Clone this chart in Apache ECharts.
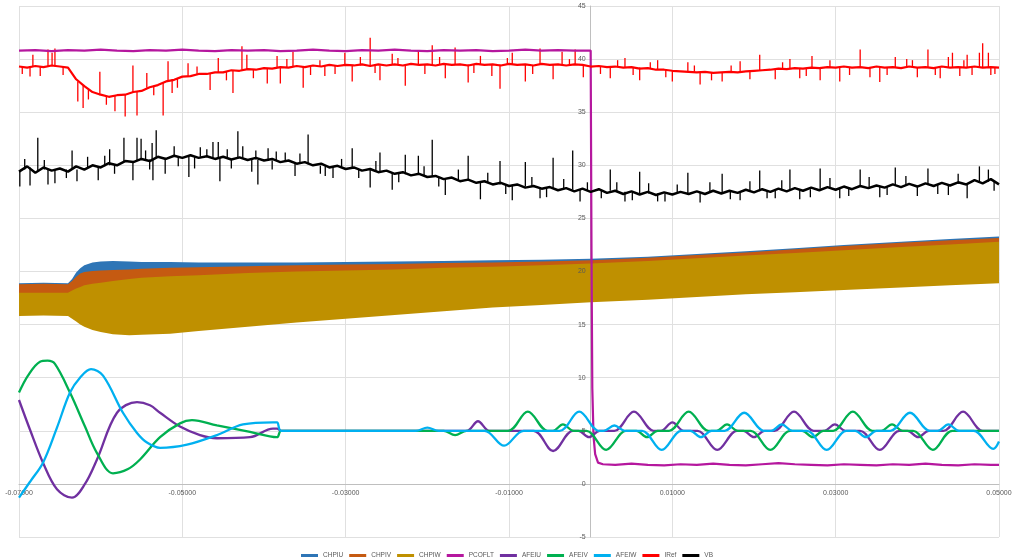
<!DOCTYPE html>
<html><head><meta charset="utf-8">
<script src="https://cdn.jsdelivr.net/npm/echarts@6/dist/echarts.min.js"></script>
<style>html,body{margin:0;padding:0;background:#fff}#c{width:1014px;height:560px}</style>
</head><body><div id="c"></div>
<script>
// ---- axis ticks (time in ms; labels shown in seconds) ----
var xTicks = [-70, -50, -30, -10, 10, 30, 50];
var seriesNames = ['CHPIU','CHPIV','CHPIW','PCOFLT','AFEIU','AFEIV','AFEIW','IRef','VB'];

// ---- CHP band envelopes (time ms, low / high) ----
var chpT = [-70,-67,-64,-63.5,-63,-62.5,-62,-61,-60,-58.5,-56.5,-55,-51.5,-48,-42,-36,-30,-24,-18,-12,-6,0,7,13,19,25,31,38,44,50];
var chpiuHi = [18.9,18.95,18.9,19.3,19.9,20.3,20.6,20.85,20.95,21.0,20.95,20.9,20.9,20.85,20.85,20.85,20.9,20.95,21.0,21.05,21.1,21.2,21.4,21.65,21.9,22.2,22.5,22.8,23.05,23.3];
var chpiuLo = [16.2,16.25,16.2,15.95,15.7,15.4,15.2,14.9,14.7,14.5,14.4,14.45,14.55,14.8,15.2,15.6,15.95,16.3,16.65,17.0,17.25,17.5,17.75,18.0,18.25,18.45,18.65,18.9,19.1,19.3];
var chpivHi = [18.8,18.85,18.8,19.1,19.5,19.8,19.95,20.05,20.1,20.15,20.2,20.25,20.35,20.4,20.5,20.6,20.65,20.7,20.8,20.85,20.95,21.05,21.3,21.55,21.8,22.1,22.4,22.7,22.95,23.15];
var chpivLo = [16.0,16.05,16.0,15.75,15.5,15.2,15.0,14.7,14.5,14.3,14.2,14.25,14.35,14.6,15.0,15.4,15.75,16.1,16.45,16.8,17.05,17.3,17.55,17.8,18.05,18.25,18.45,18.7,18.9,19.1];
var chpiwHi = [18.0,18.0,18.0,18.2,18.4,18.55,18.7,18.85,18.95,19.1,19.3,19.4,19.55,19.65,19.85,20.0,20.1,20.2,20.35,20.45,20.6,20.75,21.0,21.25,21.5,21.75,22.0,22.3,22.55,22.8];
var chpiwLo = [15.8,15.85,15.8,15.55,15.3,15.0,14.8,14.5,14.3,14.1,14.0,14.05,14.15,14.4,14.8,15.2,15.55,15.9,16.25,16.6,16.85,17.1,17.35,17.6,17.85,18.05,18.25,18.5,18.7,18.9];

// ---- PCOFLT [ms, value] ----
var pcofltData = [[-70,40.8],[-68,40.85],[-66,40.75],[-64,40.85],[-62,40.8],[-60,40.9],[-58,40.8],[-56,40.75],[-54,40.85],[-52,40.8],[-50,40.9],[-48,40.8],[-46,40.75],[-44,40.85],[-42,40.8],[-40,40.85],[-38,40.75],[-36,40.8],[-34,40.9],[-32,40.8],[-30,40.75],[-28,40.85],[-26,40.8],[-24,40.9],[-22,40.8],[-20,40.75],[-18,40.85],[-16,40.8],[-14,40.85],[-12,40.75],[-10,40.8],[-8,40.9],[-6,40.8],[-4,40.85],[-2,40.8],[0,40.8],[0.1,22],[0.2,9],[0.35,4.5],[0.55,2.8],[0.9,2.0],[1.5,1.85],[3,1.8],[5,1.9],[7,1.8],[9,1.75],[11,1.85],[13,1.8],[15,1.9],[17,1.8],[19,1.75],[21,1.85],[23,1.95],[25,1.85],[27,1.8],[29,1.75],[31,1.85],[33,1.8],[35,1.75],[37,1.85],[39,1.8],[41,1.9],[43,1.8],[45,1.75],[47,1.85],[49,1.8],[50,1.8]];

// ---- AFE currents [ms, value] ----
var afeiuData = [[-70,7.9],[-68.65,5.1],[-67.06,2.0],[-65.35,-0.5],[-63.51,-1.3],[-61.92,0.0],[-60.45,2.3],[-58.0,6.7],[-55.55,7.7],[-53.96,7.4],[-52.73,6.7],[-50.29,5.4],[-47.84,4.6],[-45.76,4.3],[-41.71,4.4],[-38.9,5.2],[-38.4,5.2],[-37.9,5.0],
[-15.2,5.0],[-13.8,5.9],[-12.4,5.0],[-7.0,5.0],[-4.6,3.1],[-2.2,5.0],[-1.5,5.0],[-0.2,4.4],[1.1,5.0],[2.9,5.0],[5.3,6.8],[7.7,5.0],[8.6,5.0],[10.0,5.8],[11.4,5.0],[13.1,5.0],[15.5,3.2],[17.9,5.0],[18.7,5.0],[20.0,4.4],[21.3,5.0],[22.5,5.0],[24.9,6.8],[27.3,5.0],[28.6,5.0],[29.9,5.6],[31.2,5.0],[33.0,5.0],[35.4,3.2],[37.8,5.0],[38.8,5.0],[40.1,4.4],[41.4,5.0],[43.2,5.0],[45.6,6.8],[48.0,5.0],[50,5.0]];
var afeivData = [[-70,8.6],[-68.9,10.2],[-67.43,11.5],[-66.5,11.6],[-65.6,11.3],[-63.76,8.6],[-61.92,5.4],[-60.45,2.9],[-58.49,1.0],[-56.65,1.4],[-55.18,2.3],[-52.73,4.4],[-50.29,5.7],[-48.82,6.0],[-45.76,5.5],[-41.71,4.9],[-38.41,4.4],[-37.9,5.0],
[-18.0,5.0],[-16.6,4.6],[-15.2,5.0],[-10.1,5.0],[-7.7,6.8],[-5.3,5.0],[-4.6,5.0],[-3.4,5.6],[-2.1,5.0],[-0.5,5.0],[1.9,3.2],[4.3,5.0],[5.6,5.0],[6.9,4.4],[8.2,5.0],[9.6,5.0],[12.0,6.8],[14.4,5.0],[15.4,5.0],[16.7,5.6],[18.0,5.0],[19.6,5.0],[22.0,3.2],[24.4,5.0],[25.9,5.0],[27.2,4.4],[28.5,5.0],[29.7,5.0],[32.1,6.8],[34.5,5.0],[35.6,5.0],[36.9,5.6],[38.2,5.0],[39.5,5.0],[41.9,3.2],[44.3,5.0],[50,5.0]];
var afeiwData = [[-70,-1.3],[-68.65,0.2],[-67.06,2.0],[-65.35,5.3],[-63.76,8.6],[-62.53,10.0],[-61.18,10.8],[-59.71,10.2],[-57.27,6.7],[-55.55,4.8],[-54.33,3.9],[-52.73,3.4],[-49.43,3.7],[-45.76,4.6],[-42.57,5.6],[-38.9,5.8],[-38.4,5.8],[-37.9,5.0],
[-21.4,5.0],[-20.0,5.3],[-18.6,5.0],[-13.0,5.0],[-10.6,3.6],[-8.2,5.0],[-3.8,5.0],[-1.4,6.8],[1.0,5.0],[1.6,5.0],[2.9,5.5],[4.2,5.0],[6.3,5.0],[8.7,3.2],[11.1,5.0],[12.2,5.0],[13.5,4.4],[14.8,5.0],[16.4,5.0],[18.8,6.7],[21.2,5.0],[22.1,5.0],[23.4,5.6],[24.7,5.0],[26.5,5.0],[28.9,3.2],[31.3,5.0],[32.4,5.0],[33.7,4.4],[35.0,5.0],[36.7,5.0],[39.1,6.7],[41.5,5.0],[42.5,5.0],[43.8,5.6],[45.1,5.0],[46.9,5.0],[49.3,3.3],[50,4.0]];

// ---- 1 ms sample times for IRef / VB ----
var t1ms = [-70,-69,-68,-67,-66,-65,-64,-63,-62,-61,-60,-59,-58,-57,-56,-55,-54,-53,-52,-51,-50,-49,-48,-47,-46,-45,-44,-43,-42,-41,-40,-39,-38,-37,-36,-35,-34,-33,-32,-31,-30,-29,-28,-27,-26,-25,-24,-23,-22,-21,-20,-19,-18,-17,-16,-15,-14,-13,-12,-11,-10,-9,-8,-7,-6,-5,-4,-3,-2,-1,0,1,2,3,4,5,6,7,8,9,10,11,12,13,14,15,16,17,18,19,20,21,22,23,24,25,26,27,28,29,30,31,32,33,34,35,36,37,38,39,40,41,42,43,44,45,46,47,48,49,50];
var irefBase = [39.3,39.2,39.35,39.25,39.4,39.3,39.2,38.1,37.45,36.9,
36.65,36.45,36.6,36.65,36.9,37.0,37.35,37.55,37.9,38.05,
38.35,38.4,38.6,38.6,38.75,38.75,38.95,38.9,39.05,39.0,
39.15,39.1,39.25,39.2,39.35,39.25,39.4,39.3,39.45,39.35,
39.45,39.4,39.5,39.35,39.5,39.4,39.5,39.4,39.55,39.45,
39.5,39.4,39.55,39.45,39.5,39.4,39.55,39.45,39.5,39.4,
39.55,39.45,39.5,39.4,39.55,39.45,39.5,39.4,39.5,39.45,
39.3,39.35,39.25,39.3,39.2,39.25,39.1,39.15,39.0,39.0,
38.9,38.85,38.8,38.75,38.8,38.7,38.75,38.8,38.75,38.85,
38.9,38.95,39.0,39.1,39.05,39.15,39.1,39.2,39.15,39.25,
39.2,39.3,39.2,39.25,39.15,39.3,39.2,39.25,39.15,39.3,
39.2,39.25,39.15,39.3,39.2,39.25,39.2,39.3,39.2,39.25,39.2];
var vbBase = [29.4,29.9,29.3,29.8,29.5,29.7,29.4,29.9,29.6,30.0,
29.8,30.2,30.0,30.4,30.3,30.6,30.4,30.8,30.6,30.9,
30.7,30.95,30.7,30.85,30.6,30.8,30.55,30.75,30.5,30.7,
30.45,30.6,30.3,30.45,30.15,30.3,30.0,30.15,29.8,29.95,
29.65,29.8,29.5,29.65,29.35,29.5,29.2,29.35,29.05,29.2,
28.9,29.0,28.7,28.85,28.5,28.65,28.35,28.5,28.2,28.35,
28.05,28.2,27.9,28.05,27.8,27.95,27.65,27.85,27.55,27.8,
27.5,27.75,27.4,27.6,27.3,27.55,27.25,27.5,27.2,27.45,
27.25,27.5,27.3,27.55,27.3,27.6,27.35,27.6,27.4,27.7,
27.45,27.75,27.5,27.8,27.55,27.85,27.6,27.9,27.65,27.95,
27.7,28.0,27.75,28.05,27.85,28.1,27.9,28.2,27.95,28.25,
28.0,28.3,28.05,28.35,28.1,28.4,28.2,28.6,28.3,28.7,28.2];

// ---- spikes [ms, from, to] ----
var irefSpikes = [[-69.6,39.25,38.6],[-68.65,39.25,38.35],[-68.3,39.3,40.4],[-67.4,39.3,38.4],[-66.45,39.3,40.9],[-65.95,39.35,40.6],[-65.6,39.3,41.0],[-64.6,39.3,38.5],[-62.8,37.9,36.0],[-62.15,37.5,35.4],[-61.5,37.1,36.2],[-60.1,36.6,38.8],[-59.3,36.5,35.7],[-58.25,36.55,35.1],[-57.0,36.65,34.6],[-56.05,36.85,39.4],[-55.55,36.95,34.7],[-54.35,37.3,38.7],[-53.5,37.5,36.6],[-52.35,37.85,34.7],[-51.75,38.0,39.8],[-51.25,38.1,36.8],[-50.6,38.2,37.3],[-49.3,38.4,39.6],[-48.2,38.55,39.3],[-46.6,38.7,37.1],[-45.6,38.75,40.1],[-44.6,38.8,38.0],[-43.8,38.9,36.8],[-42.7,39.0,41.2],[-42.1,39.05,40.4],[-41.3,39.05,38.2],[-39.6,39.1,37.7],[-38.4,39.2,40.3],[-38.0,39.2,37.7],[-37.2,39.25,40.0],[-36.45,39.3,40.7],[-35.2,39.3,37.3],[-34.3,39.35,38.5],[-33.15,39.35,39.9],[-32.55,39.4,38.4],[-31.3,39.4,38.6],
[-30.1,39.4,40.6],[-29.2,39.4,37.9],[-28.2,39.4,40.2],[-27.0,39.4,42.0],[-26.4,39.45,38.7],[-25.8,39.4,38.0],[-24.3,39.45,40.5],[-23.6,39.45,40.1],[-22.7,39.45,37.5],[-21.1,39.45,40.8],[-20.3,39.45,38.6],[-19.4,39.5,41.3],[-18.5,39.5,40.2],[-17.8,39.5,38.2],[-16.6,39.5,41.1],[-15.0,39.5,37.8],[-14.3,39.5,38.7],[-13.5,39.5,40.3],[-12.1,39.5,38.4],[-11.1,39.5,37.2],[-10.2,39.5,40.1],[-9.6,39.5,40.6],[-8.0,39.5,37.9],[-7.1,39.45,38.6],[-6.2,39.5,41.0],[-4.6,39.5,38.1],[-3.5,39.5,40.7],[-2.6,39.45,40.0],[-1.9,39.5,40.9],[-0.9,39.5,38.3],
[1.2,39.3,38.6],[2.4,39.3,38.2],[3.3,39.3,39.9],[4.2,39.25,40.1],[5.2,39.2,38.5],[6.0,39.2,38.0],[7.3,39.1,39.7],[8.2,39.0,39.9],[9.2,39.0,38.3],[10.0,38.9,37.9],[11.9,38.8,39.7],[12.7,38.8,39.4],[13.4,38.8,37.6],[14.8,38.75,38.0],[16.1,38.75,37.9],[17.2,38.8,39.4],[18.3,38.8,39.8],[19.5,38.85,38.1],[20.7,38.9,40.4],[22.6,39.0,38.1],[23.5,39.05,39.7],[24.4,39.1,40.0],[25.6,39.1,38.2],[26.4,39.15,38.4],[27.1,39.15,40.3],[28.1,39.2,38.0],[29.3,39.2,39.9],[30.5,39.2,37.9],[31.7,39.25,38.5],[33.0,39.2,40.9],[34.2,39.2,38.3],[35.4,39.2,37.85],[36.3,39.2,38.5],[37.3,39.2,40.2],[38.7,39.2,40.0],[39.4,39.2,39.9],[40.0,39.2,38.3],[41.3,39.2,40.9],[42.2,39.2,38.5],[42.8,39.2,38.2],[43.8,39.2,40.2],[44.3,39.2,40.6],[45.2,39.25,38.4],[45.7,39.25,39.9],[46.1,39.25,40.4],[46.7,39.25,38.5],[47.6,39.25,40.6],[48.0,39.25,41.5],[48.7,39.25,40.6],[49.0,39.25,38.5],[49.5,39.2,38.6]];
var vbSpikes = [[-69.9,29.5,28.0],[-69.3,29.6,30.6],[-68.65,29.8,28.1],[-67.7,29.5,32.6],[-66.9,29.6,30.5],[-66.45,29.6,28.2],[-65.6,29.6,28.3],[-64.2,29.6,28.8],[-63.5,29.7,31.4],[-62.9,29.6,28.5],[-61.6,29.8,30.8],[-60.3,29.9,28.6],[-59.5,29.9,30.9],[-58.9,30.0,31.5],[-58.3,30.1,29.2],[-57.15,30.3,32.6],[-56.05,30.4,28.6],[-55.55,30.5,32.6],[-55.05,30.5,32.5],[-54.5,30.5,31.4],[-54.0,30.55,29.6],[-53.7,30.6,32.1],[-53.6,30.6,28.6],[-53.2,30.7,33.3],[-52.1,30.7,29.2],[-51.0,30.8,31.8],[-50.5,30.8,29.9],[-49.2,30.8,28.9],[-48.5,30.8,29.7],[-47.8,30.8,31.7],[-47.0,30.8,31.5],[-46.25,30.7,32.2],[-45.6,30.7,32.2],[-45.4,30.7,28.5],[-44.5,30.65,31.5],[-44.0,30.6,29.7],[-43.2,30.6,33.2],[-42.6,30.6,31.8],[-41.5,30.55,29.4],[-41.0,30.55,31.4],[-40.75,30.5,28.2],[-39.5,30.5,31.6],[-39.0,30.45,29.6],[-38.5,30.4,31.3],[-37.4,30.35,31.2],[-36.2,30.2,29.0],[-35.6,30.2,31.1],[-34.6,30.1,32.9],[-33.1,29.95,29.2],[-32.5,29.9,29.0],[-31.55,29.85,28.8],
[-30.5,29.75,30.6],[-29.2,29.7,31.6],[-28.4,29.6,28.8],[-27.0,29.6,27.9],[-26.3,29.45,30.4],[-25.8,29.45,31.2],[-24.3,29.3,27.7],[-23.5,29.25,28.4],[-22.7,29.15,31.0],[-21.1,29.1,30.9],[-20.4,29.0,29.9],[-19.4,28.95,32.4],[-18.6,28.85,28.0],[-17.8,28.8,27.2],[-16.2,28.6,29.6],[-15.0,28.6,30.9],[-13.5,28.45,26.8],[-12.6,28.35,29.3],[-11.1,28.2,30.4],[-10.4,28.15,27.3],[-9.6,28.1,26.7],[-8.0,28.0,30.3],[-7.2,28.0,28.9],[-6.2,27.9,26.9],[-5.4,27.9,27.0],[-4.6,27.85,30.7],[-3.3,27.75,28.7],[-2.2,27.7,31.4],[-1.3,27.7,26.6],[-0.4,27.6,28.4],
[1.3,27.6,26.9],[2.4,27.6,29.6],[3.2,27.5,28.4],[4.2,27.5,26.6],[5.1,27.45,26.7],[6.0,27.4,29.4],[7.1,27.35,28.3],[8.2,27.35,26.6],[9.1,27.35,26.6],[10.6,27.35,28.2],[11.9,27.4,29.3],[13.4,27.4,26.5],[14.6,27.45,28.4],[16.1,27.45,29.2],[17.1,27.5,26.8],[18.3,27.5,26.7],[19.5,27.55,28.5],[20.7,27.55,29.5],[21.6,27.6,26.9],[22.6,27.6,26.9],[23.4,27.65,28.6],[24.4,27.7,29.6],[25.6,27.7,26.8],[26.9,27.75,27.0],[28.1,27.8,29.7],[29.3,27.8,28.8],[30.5,27.85,26.9],[31.6,27.9,27.1],[33.0,27.95,29.6],[34.1,27.95,28.9],[35.4,28.0,27.0],[36.3,28.0,27.2],[37.3,28.05,29.8],[38.6,28.05,29.0],[40.0,28.1,27.1],[41.3,28.15,29.7],[42.5,28.15,27.3],[43.8,28.2,27.2],[45.0,28.25,29.2],[46.1,28.3,26.9],[47.6,28.4,29.9],[48.7,28.45,29.6],[49.4,28.45,27.6]];

var colors = {CHPIU:'#2E75B6', CHPIV:'#C55A11', CHPIW:'#BF9000', PCOFLT:'#B5179E', AFEIU:'#7030A0', AFEIV:'#00B050', AFEIW:'#00B0F0', IRef:'#FF0000', VB:'#000000'};

function bandSeries(name, lo, hi) {
  var color = colors[name];
  return {
    name: name, type: 'custom', color: color,
    data: chpT.map(function (t, i) { return [t, lo[i], hi[i]]; }),
    encode: { x: 0, y: [1, 2] },
    renderItem: function (params, api) {
      if (params.dataIndex !== 0) return null;
      var pts = [];
      for (var i = 0; i < chpT.length; i++) pts.push(api.coord([chpT[i], hi[i]]));
      for (var j = chpT.length - 1; j >= 0; j--) pts.push(api.coord([chpT[j], lo[j]]));
      return { type: 'polygon', shape: { points: pts }, style: { fill: color } };
    }
  };
}
function lineSeries(name, data, width, smooth) {
  var color = colors[name];
  return { name: name, type: 'line', data: data, color: color, showSymbol: false, symbol: 'none',
    smooth: smooth || false, lineStyle: { color: color, width: width }, emphasis: { disabled: true } };
}
function spikeSeries(name, data, width) {
  var color = colors[name];
  return { name: name, type: 'custom', color: color, data: data, encode: { x: 0, y: [1, 2] },
    renderItem: function (params, api) {
      var a = api.coord([api.value(0), api.value(1)]);
      var b = api.coord([api.value(0), api.value(2)]);
      return { type: 'line', shape: { x1: a[0], y1: a[1], x2: b[0], y2: b[1] }, style: { stroke: color, lineWidth: width } };
    } };
}

var chart = echarts.init(document.getElementById('c'), null, { renderer: 'canvas' });
var font = 'Liberation Sans, Arial, sans-serif';
var gridL = 19, gridR = 15, gridT = 6, gridB = 23;
var plotW = 1014 - gridL - gridR, plotH = 560 - gridT - gridB;
var xMin = -70, xMax = 50, yMin = -5, yMax = 45;
var yOffset = -plotW * (0 - xMin) / (xMax - xMin);
chart.setOption({
  animation: false,
  backgroundColor: '#ffffff',
  textStyle: { fontFamily: font },
  grid: { left: gridL, right: gridR, top: gridT, bottom: gridB, containLabel: false, outerBoundsMode: 'none' },
  legend: {
    left: 'center', top: 547, icon: 'rect', itemWidth: 17, itemHeight: 3, itemGap: 6, selectedMode: false,
    textStyle: { fontSize: 6.5, color: '#595959', fontFamily: font },
    data: seriesNames.map(function (n) {
      var w = (n === 'IRef' || n === 'VB') ? 9 : 20;
      return { name: n, textStyle: { width: w, overflow: 'none' } };
    })
  },
  xAxis: {
    type: 'value', min: xMin, max: xMax, position: 'bottom',
    offset: -plotH * (0 - yMin) / (yMax - yMin),
    axisLine: { show: true, onZero: false, lineStyle: { color: '#bfbfbf', width: 1 } },
    axisTick: { show: false, customValues: xTicks },
    axisLabel: { customValues: xTicks, fontSize: 7, color: '#595959', margin: 6,
      formatter: function (v) { return (v / 1000).toFixed(5); } },
    splitLine: { show: true, lineStyle: { color: '#e0e0e0', width: 1 } }
  },
  yAxis: [{
    type: 'value', min: yMin, max: yMax, interval: 5, position: 'left', offset: yOffset,
    axisLine: { show: true, onZero: false, lineStyle: { color: '#bfbfbf', width: 1 } },
    axisTick: { show: false },
    axisLabel: { show: false },
    splitLine: { show: true, lineStyle: { color: '#e0e0e0', width: 1 } }
  }, {
    type: 'value', min: yMin, max: yMax, interval: 5, position: 'left', offset: yOffset, z: 20,
    axisLine: { show: false, onZero: false },
    axisTick: { show: false },
    axisLabel: { fontSize: 7, color: '#595959', margin: 5 },
    splitLine: { show: false }
  }],
  series: [
    bandSeries('CHPIU', chpiuLo, chpiuHi),
    bandSeries('CHPIV', chpivLo, chpivHi),
    bandSeries('CHPIW', chpiwLo, chpiwHi),
    lineSeries('PCOFLT', pcofltData, 2.2, false),
    lineSeries('AFEIU', afeiuData, 2.3, 0.35),
    lineSeries('AFEIV', afeivData, 2.3, 0.35),
    lineSeries('AFEIW', afeiwData, 2.3, 0.35),
    lineSeries('IRef', t1ms.map(function (t, i) { return [t, irefBase[i]]; }), 2.2, false),
    spikeSeries('IRef', irefSpikes, 1.3),
    lineSeries('VB', t1ms.map(function (t, i) { return [t, vbBase[i]]; }), 2.5, false),
    spikeSeries('VB', vbSpikes, 1.3)
  ]
});
</script></body></html>
